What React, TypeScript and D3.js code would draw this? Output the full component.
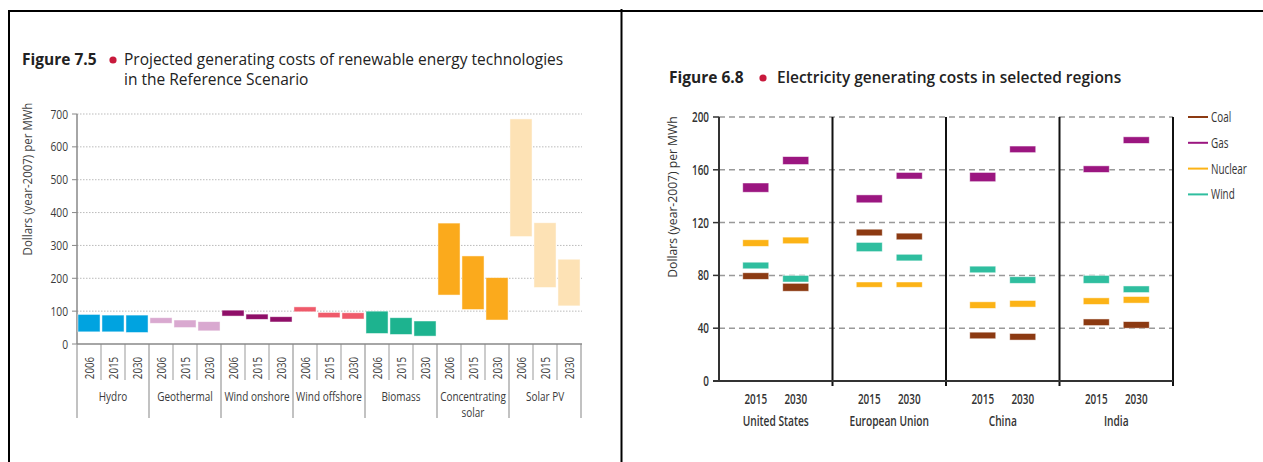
import { useEffect, useRef } from "react";
import * as d3 from "d3";

// Figure 7.5 data
const techGroups = [
  "Hydro",
  "Geothermal",
  "Wind onshore",
  "Wind offshore",
  "Biomass",
  "Concentrating solar",
  "Solar PV",
];
const techYears = ["2006", "2015", "2030"];
const techLow = [
  [37, 37, 35],
  [63, 50, 40],
  [85, 75, 67],
  [98, 80, 76],
  [32, 29, 24],
  [149, 105, 73],
  [327, 172, 116],
];
const techHigh = [
  [90, 88, 88],
  [80, 73, 68],
  [103, 91, 83],
  [113, 96, 95],
  [100, 80, 70],
  [368, 268, 202],
  [685, 369, 258],
];
const techColors = ["#00a3e0", "#d9a9d0", "#8f0f68", "#ef5a6a", "#1db38f", "#fbaa1c", "#fde2b5"];
const techTicks = [0, 100, 200, 300, 400, 500, 600, 700];

// Figure 6.8 data: [low, high] per region, per year
const regions = ["United States", "European Union", "China", "India"];
const periods = ["2015", "2030"];
const fuels = ["Coal", "Gas", "Nuclear", "Wind"];
const coal = [[[77, 82], [68, 74]], [[110, 115], [107, 112]], [[32, 37], [31, 36]], [[42, 47], [40, 45]]];
const gas = [[[143, 150], [164, 170]], [[135, 141], [153, 158]], [[151, 158], [173, 178]], [[158, 163], [180, 185]]];
const nuclear = [[[102, 107], [104, 109]], [[71, 75], [71, 75]], [[55, 60], [56, 61]], [[58, 63], [59, 64]]];
const wind = [[[85, 90], [75, 80]], [[98, 105], [91, 96]], [[82, 87], [74, 79]], [[74, 80], [67, 72]]];
const fuelColors = ["#8c3a12", "#9b1680", "#fcb316", "#2fbe9f"];
const regionTicks = [0, 40, 80, 120, 160, 200];

const titleFont = "'Open Sans', 'DejaVu Sans', sans-serif";
const bodyFont = "'Open Sans', sans-serif";

type Sel = d3.Selection<SVGGElement, unknown, null, undefined>;

// squeezed text, to stand in for the condensed face of the original
const narrow = (
  g: Sel,
  x: number,
  y: number,
  s: string,
  opts: { size: number; sx: number; anchor?: string; rotate?: number; weight?: number; fill?: string }
) =>
  g
    .append("text")
    .attr("transform", `translate(${x},${y}) rotate(${opts.rotate ?? 0}) scale(${opts.sx},1)`)
    .attr("text-anchor", opts.anchor ?? "middle")
    .attr("font-family", bodyFont)
    .attr("font-size", opts.size)
    .attr("font-weight", opts.weight ?? 400)
    .attr("fill", opts.fill ?? "#444")
    .text(s);

const App = () => {
  const ref = useRef<SVGSVGElement | null>(null);

  useEffect(() => {
    const svg = d3.select(ref.current);
    svg.selectAll("*").remove();

    // frame of the table
    const frame = svg.append("g").attr("stroke", "#000").attr("stroke-width", 2);
    frame.append("line").attr("x1", 8).attr("x2", 1263).attr("y1", 11).attr("y2", 11);
    frame.append("line").attr("x1", 9).attr("x2", 9).attr("y1", 10).attr("y2", 462);
    frame.append("line").attr("x1", 621.5).attr("x2", 621.5).attr("y1", 9).attr("y2", 462);

    // ---------- Figure 7.5 ----------
    const left = svg.append("g") as unknown as Sel;
    const t1 = left.append("text").attr("font-family", titleFont).attr("font-size", 15.5).attr("fill", "#222");
    t1.append("tspan").attr("x", 22).attr("y", 65).attr("font-weight", 700).text("Figure 7.5");
    t1.append("tspan").attr("x", 124).attr("y", 65).text("Projected generating costs of renewable energy technologies");
    t1.append("tspan").attr("x", 124).attr("y", 85).text("in the Reference Scenario");
    left.append("circle").attr("cx", 113).attr("cy", 60).attr("r", 3.6).attr("fill", "#c8193c");

    const y1 = d3.scaleLinear().domain([0, 700]).range([344, 114]);
    const gx = d3.scaleBand().domain(techGroups).range([77, 581]);
    const ix = d3.scaleBand().domain(techYears).range([0, gx.bandwidth()]).paddingInner(0.08).paddingOuter(0.04);
    const slot = gx.bandwidth() / techYears.length;

    left
      .append("g")
      .selectAll("line")
      .data(techTicks.filter((d) => d > 0))
      .join("line")
      .attr("x1", 77)
      .attr("x2", 582)
      .attr("y1", (d) => y1(d))
      .attr("y2", (d) => y1(d))
      .attr("stroke", "#bbb")
      .attr("stroke-dasharray", "1.5,1.5");

    left
      .append("g")
      .selectAll("line")
      .data(techTicks)
      .join("line")
      .attr("x1", 72)
      .attr("x2", 77)
      .attr("y1", (d) => y1(d))
      .attr("y2", (d) => y1(d))
      .attr("stroke", "#888");
    techTicks.forEach((t) =>
      narrow(left, 68, y1(t) + 4.5, String(t), { size: 13.5, sx: 0.76, anchor: "end", fill: "#3a3a3a" })
    );
    left
      .append("line")
      .attr("x1", 77)
      .attr("x2", 77)
      .attr("y1", 114)
      .attr("y2", 344)
      .attr("stroke", "#888")
      .attr("stroke-width", 1.5);

    narrow(left, 32, 179, "Dollars (year-2007) per MWh", { size: 12.5, sx: 0.92, rotate: -90 });

    techGroups.forEach((g, gi) => {
      const gx0 = gx(g) as number;
      techYears.forEach((yr, yi) => {
        left
          .append("rect")
          .attr("x", gx0 + (ix(yr) as number))
          .attr("width", ix.bandwidth())
          .attr("y", y1(techHigh[gi][yi]))
          .attr("height", y1(techLow[gi][yi]) - y1(techHigh[gi][yi]))
          .attr("fill", techColors[gi])
          .attr("stroke", "#fff")
          .attr("stroke-opacity", 0.6)
          .attr("stroke-width", 0.8);
        const cx = gx0 + slot * (yi + 0.5);
        narrow(left, cx + 4.5, 368, yr, { size: 12.5, sx: 0.78, rotate: -90, fill: "#3a3a3a" });
        if (yi > 0) {
          left
            .append("line")
            .attr("x1", gx0 + slot * yi)
            .attr("x2", gx0 + slot * yi)
            .attr("y1", 344)
            .attr("y2", 380)
            .attr("stroke", "#999");
        }
      });
      const lines = g === "Concentrating solar" ? ["Concentrating", "solar"] : [g];
      lines.forEach((ln, li) =>
        narrow(left, gx0 + gx.bandwidth() / 2, 401 + li * 16, ln, { size: 13.5, sx: 0.74, fill: "#3a3a3a" })
      );
    });

    left
      .append("g")
      .selectAll("line")
      .data([...techGroups.map((g) => gx(g) as number), 581])
      .join("line")
      .attr("x1", (d) => d)
      .attr("x2", (d) => d)
      .attr("y1", 344)
      .attr("y2", 418)
      .attr("stroke", "#999")
      .attr("stroke-width", 1.2);
    left
      .append("line")
      .attr("x1", 77)
      .attr("x2", 582)
      .attr("y1", 344)
      .attr("y2", 344)
      .attr("stroke", "#888")
      .attr("stroke-width", 1.5);

    // ---------- Figure 6.8 ----------
    const right = svg.append("g") as unknown as Sel;
    const t2 = right.append("text").attr("font-family", titleFont).attr("font-size", 15.5).attr("fill", "#222");
    t2.append("tspan").attr("x", 669).attr("y", 83).attr("font-weight", 700).text("Figure 6.8");
    t2.append("tspan").attr("x", 777).attr("y", 83).attr("font-weight", 600).text("Electricity generating costs in selected regions");
    right.append("circle").attr("cx", 763).attr("cy", 78).attr("r", 3.6).attr("fill", "#c8193c");

    const y2 = d3.scaleLinear().domain([0, 200]).range([381, 117]);
    const rx = d3.scaleBand().domain(regions).range([719, 1173]);
    const px = d3.scaleBand().domain(periods).range([0, rx.bandwidth()]).paddingInner(0.35).paddingOuter(0.594);

    right
      .append("g")
      .selectAll("line")
      .data(regionTicks.filter((d) => d > 0))
      .join("line")
      .attr("x1", 719)
      .attr("x2", 1173)
      .attr("y1", (d) => y2(d))
      .attr("y2", (d) => y2(d))
      .attr("stroke", "#999")
      .attr("stroke-width", 1.5)
      .attr("stroke-dasharray", "6,4");

    right
      .append("g")
      .selectAll("line")
      .data(regionTicks)
      .join("line")
      .attr("x1", 713)
      .attr("x2", 719)
      .attr("y1", (d) => y2(d))
      .attr("y2", (d) => y2(d))
      .attr("stroke", "#333")
      .attr("stroke-width", 1.5);
    regionTicks.forEach((t) =>
      narrow(right, 709, y2(t) + 5, String(t), { size: 15, sx: 0.66, anchor: "end", weight: 600, fill: "#333" })
    );
    right
      .append("line")
      .attr("x1", 719)
      .attr("x2", 719)
      .attr("y1", 117)
      .attr("y2", 381)
      .attr("stroke", "#333")
      .attr("stroke-width", 2);

    narrow(right, 677, 197, "Dollars (year-2007) per MWh", { size: 13.5, sx: 0.9, rotate: -90, fill: "#333" });

    const fuelData = [coal, gas, nuclear, wind];
    regions.forEach((r, ri) => {
      const rx0 = rx(r) as number;
      periods.forEach((p, pi) => {
        fuelData.forEach((fd, fi) => {
          const [lo, hi] = fd[ri][pi];
          right
            .append("rect")
            .attr("x", rx0 + (px(p) as number))
            .attr("width", px.bandwidth())
            .attr("y", y2(hi))
            .attr("height", y2(lo) - y2(hi))
            .attr("fill", fuelColors[fi])
            .attr("stroke", "#fff")
            .attr("stroke-opacity", 0.6)
            .attr("stroke-width", 0.8);
        });
        narrow(right, rx0 + (px(p) as number) + px.bandwidth() / 2, 403.5, p, {
          size: 15,
          sx: 0.66,
          weight: 600,
          fill: "#333",
        });
      });
      narrow(right, rx0 + rx.bandwidth() / 2, 426, r, { size: 15, sx: 0.68, weight: 600, fill: "#333" });
    });

    right
      .append("g")
      .selectAll("line")
      .data(regions.map((r) => (rx(r) as number) + rx.bandwidth()))
      .join("line")
      .attr("x1", (d) => d)
      .attr("x2", (d) => d)
      .attr("y1", 117)
      .attr("y2", 386)
      .attr("stroke", "#111")
      .attr("stroke-width", 2);
    right
      .append("line")
      .attr("x1", 713)
      .attr("x2", 1173)
      .attr("y1", 381)
      .attr("y2", 381)
      .attr("stroke", "#333")
      .attr("stroke-width", 2);

    fuels.forEach((f, i) => {
      const ly = 117 + i * 25.8;
      right
        .append("line")
        .attr("x1", 1188)
        .attr("x2", 1208)
        .attr("y1", ly)
        .attr("y2", ly)
        .attr("stroke", fuelColors[i])
        .attr("stroke-width", 2);
      narrow(right, 1211, ly + 5, f, { size: 15, sx: 0.66, anchor: "start", fill: "#333" });
    });
  }, []);

  return (
    <svg
      ref={ref}
      width={1263}
      height={462}
      style={{ position: "absolute", left: 0, top: 0, background: "#fff" }}
    ></svg>
  );
};

export default App;
